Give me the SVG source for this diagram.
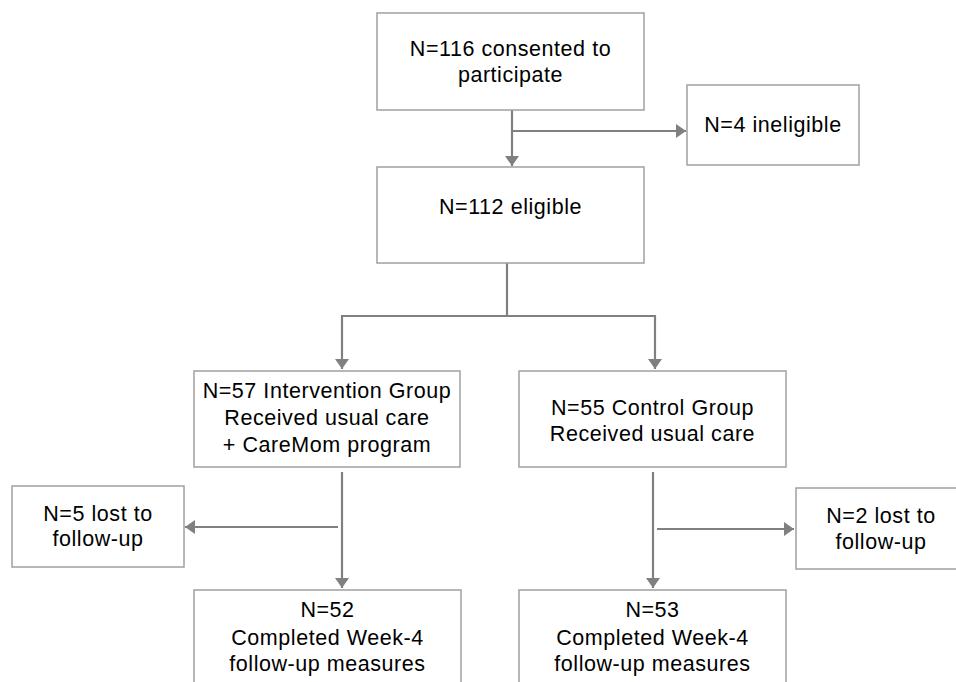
<svg xmlns="http://www.w3.org/2000/svg" width="956" height="682" viewBox="0 0 956 682">
<defs>
<style>
.box{fill:#fff;stroke:#a0a0a0;stroke-width:1.5}
.t{font-family:"Liberation Sans",Arial,sans-serif;font-size:21.5px;letter-spacing:0.55px;fill:#000;text-anchor:middle}
.c{fill:none;stroke:#808080;stroke-width:2.2}
</style>
<marker id="a" viewBox="0 0 10 14" refX="10" refY="7" markerWidth="10" markerHeight="14" markerUnits="userSpaceOnUse" orient="auto">
<path d="M0,0 L10,7 L0,14 Z" fill="#808080"/>
</marker>
</defs>
<rect width="956" height="682" fill="#fff"/>
<g id="connectors">
<path class="c" d="M512,110 V166" marker-end="url(#a)"/>
<path class="c" d="M512,131 H686" marker-end="url(#a)"/>
<path class="c" d="M507,263 V316"/>
<path class="c" d="M342,316 H655"/>
<path class="c" d="M342,315 V369" marker-end="url(#a)"/>
<path class="c" d="M655,315 V369" marker-end="url(#a)"/>
<path class="c" d="M342,472 V588" marker-end="url(#a)"/>
<path class="c" d="M338,527 H185" marker-end="url(#a)"/>
<path class="c" d="M653,472 V588" marker-end="url(#a)"/>
<path class="c" d="M657,529 H794" marker-end="url(#a)"/>
</g>
<g id="consented">
<rect class="box" x="377" y="13" width="267" height="97"/>
<text class="t" x="510.5" y="56">N=116 consented to</text>
<text class="t" x="510.5" y="82">participate</text>
</g>
<g id="ineligible">
<rect class="box" x="687" y="85" width="172" height="80"/>
<text class="t" x="773" y="132">N=4 ineligible</text>
</g>
<g id="eligible">
<rect class="box" x="377" y="167" width="267" height="96"/>
<text class="t" x="510.5" y="214">N=112 eligible</text>
</g>
<g id="intervention">
<rect class="box" x="194" y="371" width="266" height="96"/>
<text class="t" x="327" y="398">N=57 Intervention Group</text>
<text class="t" x="327" y="425">Received usual care</text>
<text class="t" x="327" y="452">+ CareMom program</text>
</g>
<g id="control">
<rect class="box" x="519" y="371" width="267" height="96"/>
<text class="t" x="652.5" y="415">N=55 Control Group</text>
<text class="t" x="652.5" y="441">Received usual care</text>
</g>
<g id="lost5">
<rect class="box" x="12" y="486" width="172" height="81"/>
<text class="t" x="98" y="521">N=5 lost to</text>
<text class="t" x="98" y="546">follow-up</text>
</g>
<g id="lost2">
<rect class="box" x="796" y="488" width="172" height="81"/>
<text class="t" x="881" y="523">N=2 lost to</text>
<text class="t" x="881" y="549">follow-up</text>
</g>
<g id="completed52">
<rect class="box" x="194" y="590" width="267" height="110"/>
<text class="t" x="327.5" y="617">N=52</text>
<text class="t" x="327.5" y="645">Completed Week-4</text>
<text class="t" x="327.5" y="671">follow-up measures</text>
</g>
<g id="completed53">
<rect class="box" x="519" y="590" width="267" height="110"/>
<text class="t" x="652.5" y="617">N=53</text>
<text class="t" x="652.5" y="645">Completed Week-4</text>
<text class="t" x="652.5" y="671">follow-up measures</text>
</g>
</svg>
